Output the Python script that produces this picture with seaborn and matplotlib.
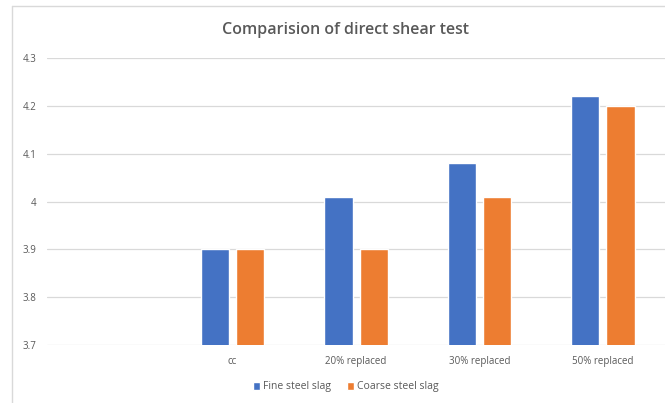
import pandas as pd
import seaborn as sns
import matplotlib.pyplot as plt
from matplotlib.lines import Line2D

# dados
categorias = ["", "cc", "20% replaced", "30% replaced", "50% replaced"]
grupos = ["cc", "20% replaced", "30% replaced", "50% replaced"]
fine = [3.9, 4.01, 4.08, 4.22]
coarse = [3.9, 3.9, 4.01, 4.2]
series = ["Fine steel slag", "Coarse steel slag"]

df = pd.DataFrame({
    "grupo": grupos * 2,
    "valor": fine + coarse,
    "serie": [series[0]] * 4 + [series[1]] * 4,
})

sns.set_theme(style="white")
plt.rcParams['font.family'] = ['Open Sans', 'DejaVu Sans']

fig = plt.figure(figsize=(6.65, 4.03), dpi=100)
ax = fig.add_axes([0.0714, 0.144, 0.928, 0.712])

sns.barplot(data=df, x="grupo", y="valor", hue="serie", order=categorias,
            hue_order=series, palette=["#4472C4", "#ED7D31"], saturation=1,
            width=0.57, gap=0.2, ax=ax, legend=True)

ax.set_ylim(3.7, 4.3)
ax.set_yticks([3.7, 3.8, 3.9, 4.0, 4.1, 4.2, 4.3])
ax.set_yticklabels(["3.7", "3.8", "3.9", "4", "4.1", "4.2", "4.3"])
ax.yaxis.grid(True, color="#D9D9D9", linewidth=0.9)
ax.set_axisbelow(True)
for s in ax.spines.values():
    s.set_visible(False)
ax.tick_params(axis="both", length=0, labelsize=7, labelcolor="#595959", pad=8)
ax.set_xlabel("")
ax.set_ylabel("")

# título centrado na figura
fig.text(345 / 665, 1 - 30 / 403, "Comparision of direct shear test", fontsize=11.5,
         color="#595959", fontweight="semibold", ha="center", va="center")

ax.legend(loc="center", bbox_to_anchor=(346 / 665, 1 - 387 / 403),
          bbox_transform=fig.transFigure, ncol=2, frameon=False,
          fontsize=7.5, handlelength=0.7, handleheight=0.7, handletextpad=0.3,
          columnspacing=1.5, labelcolor="#595959")

# moldura do gráfico (só topo e esquerda aparecem no recorte)
x0, y0 = 12 / 665, 1 - 6 / 403
fig.lines.append(Line2D([x0, 1], [y0, y0], transform=fig.transFigure, color="#D9D9D9", linewidth=1))
fig.lines.append(Line2D([x0, x0], [0, y0], transform=fig.transFigure, color="#D9D9D9", linewidth=1))

plt.savefig("out.png", dpi=100)
